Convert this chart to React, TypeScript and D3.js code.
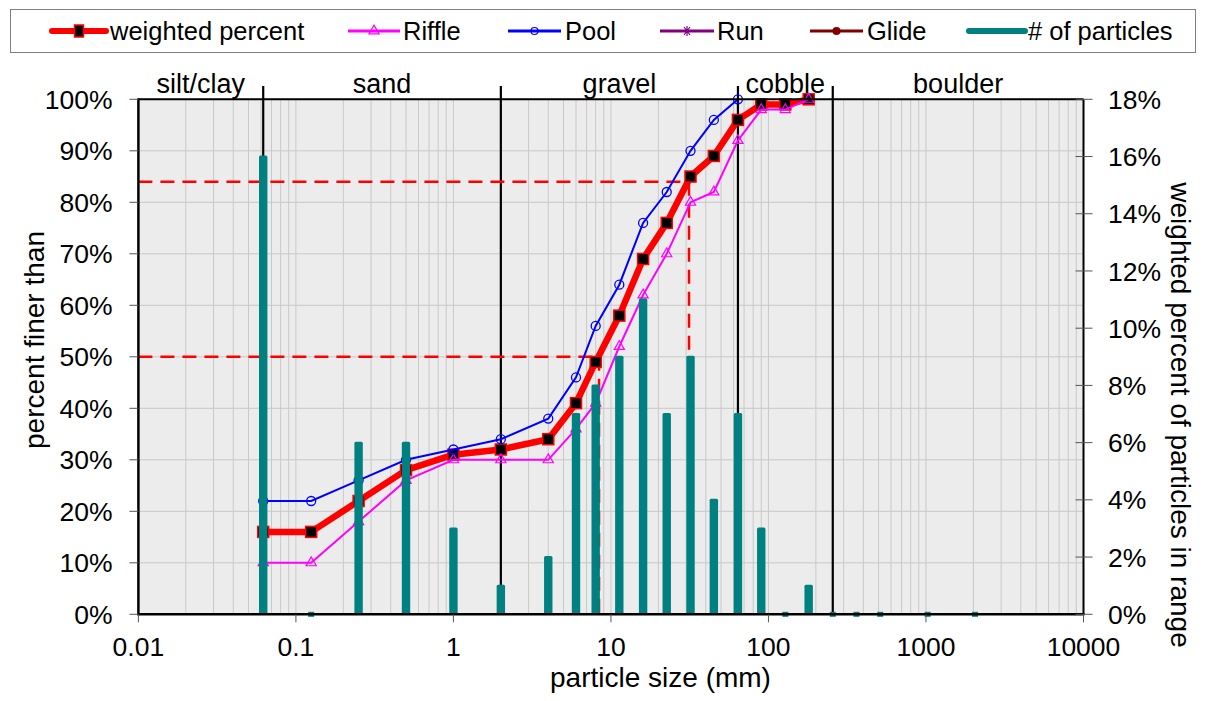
import React from "react";
import * as d3 from "d3";

const W = 1206;
const H = 701;

// particle sizes (mm)
const sizes = [0.062, 0.125, 0.25, 0.5, 1, 2, 4, 6, 8, 11.3, 16, 22.6, 32, 45, 64, 90, 128, 180];
const weightedPct = [16, 16, 22, 28, 31, 32, 34, 41, 49, 58, 69, 76, 85, 89, 96, 99, 99, 100];
const rifflePct = [10, 10, 18, 26, 30, 30, 30, 36, 41, 52, 62, 70, 80, 82, 92, 98, 98, 100];
const poolSizes = [0.062, 0.125, 0.25, 0.5, 1, 2, 4, 6, 8, 11.3, 16, 22.6, 32, 45, 64];
const poolPct = [22, 22, 26, 30, 32, 34, 38, 46, 56, 64, 76, 82, 90, 96, 100];

const barSizes = [0.062, 0.125, 0.25, 0.5, 1, 2, 4, 6, 8, 11.3, 16, 22.6, 32, 45, 64, 90, 128, 180, 256, 362, 512, 1024, 2048];
const barPct = [16, 0, 6, 6, 3, 1, 2, 7, 8, 9, 11, 7, 9, 4, 7, 3, 0, 1, 0, 0, 0, 0, 0];

const classBounds = [0.062, 2, 64, 256];
const classNames = ["silt/clay", "sand", "gravel", "cobble", "boulder"];
const classEdges = [0.01, 0.062, 2, 64, 256, 10000];

const d50 = 8.4;
const d84 = 31.3;

const xTicks = [0.01, 0.1, 1, 10, 100, 1000, 10000];
const xTickLabels = ["0.01", "0.1", "1", "10", "100", "1000", "10000"];
const yLeftTicks = [0, 10, 20, 30, 40, 50, 60, 70, 80, 90, 100];
const yRightTicks = [0, 2, 4, 6, 8, 10, 12, 14, 16, 18];

const legendItems = ["weighted percent", "Riffle", "Pool", "Run", "Glide", "# of particles"];

const FONT = "'Liberation Sans', Arial, sans-serif";

export default function App() {
  const L = 138.4, R = 1083.5, T = 99.3, B = 614.3;
  const x = d3.scaleLog().domain([0.01, 10000]).range([L, R]);
  const yL = d3.scaleLinear().domain([0, 100]).range([B, T]);
  const yR = d3.scaleLinear().domain([0, 18]).range([B, T]);

  const minorX: number[] = [];
  for (let e = -2; e < 4; e++) {
    for (let m = 1; m <= 9; m++) minorX.push(m * Math.pow(10, e));
  }

  const line = d3.line<[number, number]>().x(d => x(d[0])).y(d => yL(d[1]));
  const wPts = sizes.map((s, i) => [s, weightedPct[i]] as [number, number]);
  const rPts = sizes.map((s, i) => [s, rifflePct[i]] as [number, number]);
  const pPts = poolSizes.map((s, i) => [s, poolPct[i]] as [number, number]);

  const tri = d3.symbol().type(d3.symbolTriangle).size(45)() as string;

  const fsTick = 26.5;
  const fsTitle = 28;
  const fsLeg = 25.5;

  // legend layout
  const legY = 31;
  const legSample = [
    { x0: 52, x1: 106, tx: 110 },
    { x0: 348, x1: 400, tx: 403 },
    { x0: 508, x1: 561, tx: 565 },
    { x0: 660, x1: 714, tx: 717 },
    { x0: 810, x1: 863, tx: 867 },
    { x0: 969, x1: 1025, tx: 1028 },
  ];

  return (
    <div style={{ position: "absolute", left: 0, top: 0 }}>
      <svg width={W} height={H} style={{ display: "block", fontFamily: FONT }}>
        <rect x={0} y={0} width={W} height={H} fill="#fff" />
        {/* legend box */}
        <rect x={10.5} y={9.5} width={1185} height={43} fill="#fff" stroke="#7f7f7f" strokeWidth={1} />
        {legendItems.map((name, i) => {
          const s = legSample[i];
          const cx = (s.x0 + s.x1) / 2;
          return (
            <g key={name}>
              {i === 0 && (
                <g>
                  <line x1={s.x0} x2={s.x1} y1={legY} y2={legY} stroke="#ff0000" strokeWidth={6} strokeLinecap="round" />
                  <rect x={cx - 4.5} y={legY - 6} width={9} height={12} fill="#000" stroke="#ff0000" strokeWidth={1.5} />
                </g>
              )}
              {i === 1 && (
                <g>
                  <line x1={s.x0} x2={s.x1} y1={legY} y2={legY} stroke="#ff00ff" strokeWidth={3} />
                  <path d={tri} transform={`translate(${cx},${legY})`} fill="none" stroke="#ff00ff" strokeWidth={1.2} />
                </g>
              )}
              {i === 2 && (
                <g>
                  <line x1={s.x0} x2={s.x1} y1={legY} y2={legY} stroke="#0000ff" strokeWidth={3} />
                  <circle cx={cx} cy={legY} r={3.5} fill="none" stroke="#0000ff" strokeWidth={1.2} />
                </g>
              )}
              {i === 3 && (
                <g>
                  <line x1={s.x0} x2={s.x1} y1={legY} y2={legY} stroke="#800080" strokeWidth={3} />
                  <path d={`M${cx - 3},${legY - 4}L${cx + 3},${legY + 4}M${cx + 3},${legY - 4}L${cx - 3},${legY + 4}M${cx},${legY - 5}L${cx},${legY + 5}`} stroke="#800080" strokeWidth={1.2} />
                </g>
              )}
              {i === 4 && (
                <g>
                  <line x1={s.x0} x2={s.x1} y1={legY} y2={legY} stroke="#800000" strokeWidth={3} />
                  <circle cx={cx} cy={legY} r={4} fill="#800000" />
                </g>
              )}
              {i === 5 && (
                <line x1={s.x0} x2={s.x1} y1={legY} y2={legY} stroke="#008080" strokeWidth={6} strokeLinecap="round" />
              )}
              <text x={s.tx} y={legY} dy="0.35em" fontSize={fsLeg} fill="#000">{name}</text>
            </g>
          );
        })}

        {/* plot background */}
        <rect x={L} y={T} width={R - L} height={B - T} fill="#ececec" />
        {/* vertical grid */}
        {minorX.map((v, i) => (
          <line key={"gx" + i} x1={x(v)} x2={x(v)} y1={T} y2={B} stroke="#c9c9c9" strokeWidth={1} />
        ))}
        {/* horizontal grid */}
        {yLeftTicks.map(v => (
          <line key={"gy" + v} x1={L} x2={R} y1={yL(v)} y2={yL(v)} stroke="#c9c9c9" strokeWidth={1} />
        ))}

        {/* class boundary lines */}
        {classBounds.map(v => (
          <line key={"cb" + v} x1={x(v)} x2={x(v)} y1={86} y2={B} stroke="#000" strokeWidth={2.2} />
        ))}
        {classNames.map((n, i) => (
          <text key={n} x={(x(classEdges[i]) + x(classEdges[i + 1])) / 2} y={93} textAnchor="middle" fontSize={fsTick + 0.5} fill="#000">{n}</text>
        ))}

        {/* D50 / D84 dashed lines */}
        <g stroke="#ff0000" strokeWidth={2.5} strokeDasharray="14,8" fill="none">
          <line x1={L} x2={x(d84)} y1={yL(84)} y2={yL(84)} />
          <line x1={x(d84)} x2={x(d84)} y1={yL(84)} y2={B} />
          <line x1={L} x2={x(d50)} y1={yL(50)} y2={yL(50)} />
          <line x1={x(d50)} x2={x(d50)} y1={yL(50)} y2={B} />
        </g>

        {/* weighted percent */}
        <path d={line(wPts) as string} fill="none" stroke="#ff0000" strokeWidth={6.5} strokeLinejoin="round" />
        {wPts.map((p, i) => (
          <rect key={"wm" + i} x={x(p[0]) - 5.5} y={yL(p[1]) - 5.5} width={11} height={11} fill="#000" stroke="#ff0000" strokeWidth={1.5} />
        ))}
        {/* riffle */}
        <path d={line(rPts) as string} fill="none" stroke="#ff00ff" strokeWidth={2} />
        {rPts.map((p, i) => (
          <path key={"rm" + i} d={tri} transform={`translate(${x(p[0])},${yL(p[1])})`} fill="none" stroke="#ff00ff" strokeWidth={1.2} />
        ))}
        {/* pool */}
        <path d={line(pPts) as string} fill="none" stroke="#0000ff" strokeWidth={2} />
        {pPts.map((p, i) => (
          <circle key={"pm" + i} cx={x(p[0])} cy={yL(p[1])} r={4.5} fill="none" stroke="#0000ff" strokeWidth={1.3} />
        ))}

        {/* # of particles bars */}
        {barSizes.map((s, i) => {
          const v = barPct[i];
          const cx = x(s);
          if (v === 0) {
            return <rect key={"b" + i} x={cx - 3} y={B - 2.5} width={6} height={5} fill="#008080" />;
          }
          return <rect key={"b" + i} x={cx - 4.2} y={yR(v) - 1} width={8.4} height={B - yR(v) + 1} rx={1.5} fill="#008080" />;
        })}

        {/* plot border */}
        <line x1={L} x2={R} y1={T} y2={T} stroke="#000" strokeWidth={2} />
        <line x1={R} x2={R} y1={T} y2={B} stroke="#000" strokeWidth={2} />
        <line x1={L} x2={L} y1={T - 1} y2={B + 1} stroke="#000" strokeWidth={2.5} />
        <line x1={L - 1} x2={R + 1} y1={B} y2={B} stroke="#000" strokeWidth={2.5} />

        {/* left axis ticks & labels */}
        {yLeftTicks.map(v => (
          <g key={"yl" + v}>
            <line x1={L - 9} x2={L} y1={yL(v)} y2={yL(v)} stroke="#555" strokeWidth={1} />
            <text x={112.5} y={yL(v)} dy="0.36em" textAnchor="end" fontSize={fsTick} fill="#000">{v + "%"}</text>
          </g>
        ))}
        {/* right axis ticks & labels */}
        {yRightTicks.map(v => (
          <g key={"yr" + v}>
            <line x1={R - 8} x2={R + 9} y1={yR(v)} y2={yR(v)} stroke="#555" strokeWidth={1} />
            <text x={1108} y={yR(v)} dy="0.36em" textAnchor="start" fontSize={fsTick} fill="#000">{v + "%"}</text>
          </g>
        ))}
        {/* bottom axis */}
        {xTicks.map((v, i) => (
          <g key={"xt" + v}>
            <line x1={x(v)} x2={x(v)} y1={B} y2={B + 8} stroke="#555" strokeWidth={1} />
            <text x={x(v)} y={656} textAnchor="middle" fontSize={fsTick} fill="#000">{xTickLabels[i]}</text>
          </g>
        ))}

        {/* axis titles */}
        <text x={660.5} y={687} textAnchor="middle" fontSize={fsTitle} fill="#000">particle size (mm)</text>
        <text transform={`translate(44,340) rotate(-90)`} textAnchor="middle" fontSize={fsTitle} fill="#000">percent finer than</text>
        <text transform={`translate(1171,415) rotate(90)`} textAnchor="middle" fontSize={fsTitle} fill="#000">weighted percent of particles in range</text>
      </svg>
    </div>
  );
}
